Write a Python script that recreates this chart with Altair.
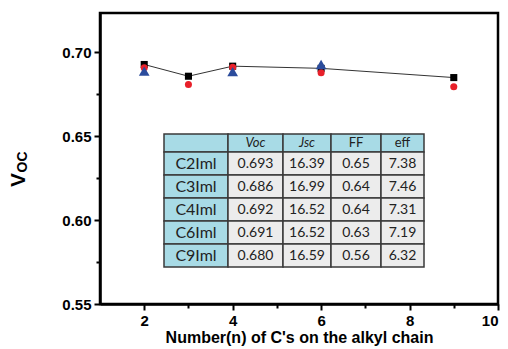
import altair as alt
import pandas as pd

# ---- data ----
n_black = [2, 3, 4, 6, 9]
voc_black = [0.6928, 0.6858, 0.6918, 0.6905, 0.6850]
n_red = [2, 3, 4, 6, 9]
voc_red = [0.6908, 0.6809, 0.6912, 0.6879, 0.6795]
n_blue = [2, 4, 6]
voc_blue = [0.6889, 0.6885, 0.6928]

tbl_rows = ["C2Iml", "C3Iml", "C4Iml", "C6Iml", "C9Iml"]
tbl_cols = ["Voc", "Jsc", "FF", "eff"]
tbl_voc = ["0.693", "0.686", "0.692", "0.691", "0.680"]
tbl_jsc = ["16.39", "16.99", "16.52", "16.52", "16.59"]
tbl_ff = ["0.65", "0.64", "0.64", "0.63", "0.56"]
tbl_eff = ["7.38", "7.46", "7.31", "7.19", "6.32"]

x_major = [2, 4, 6, 8, 10]
x_minor = [3, 5, 7, 9]
y_major = [0.55, 0.60, 0.65, 0.70]
y_minor = [0.575, 0.625, 0.675]

# ---- layout ----
W, H = 398, 291
col_edges = [64, 128, 183, 231, 281, 324]
row_edges = [121, 139, 162, 185, 208, 231, 254]
BLUE_CELL = "#a8dbe6"
GRAY_CELL = "#ececec"

xscale = alt.Scale(domain=[1, 10], nice=False, zero=False)
yscale = alt.Scale(domain=[0.55, 0.7235], nice=False, zero=False)

axis_common = dict(
    domain=True, domainColor="black", domainWidth=2.5,
    grid=False, ticks=True, tickColor="black", tickWidth=2,
    labelFont="Liberation Sans", labelFontWeight="bold", labelFontSize=15,
    labelColor="black", titleFont="Liberation Sans", titleFontWeight="bold",
    titleColor="black",
)

xaxis = alt.Axis(
    values=x_major + x_minor, labelExpr="datum.value % 2 == 0 ? datum.label : ''",
    tickSize={"condition": {"test": "datum.value % 2 == 0", "value": 6}, "value": 4},
    title="Number(n) of C's on the alkyl chain", titleFontSize=16, titlePadding=1,
    labelPadding=3, **axis_common,
)
yaxis = alt.Axis(
    values=y_major + y_minor, format=".2f",
    labelExpr="round(datum.value*1000) % 50 == 0 ? datum.label : ''",
    tickSize={"condition": {"test": "round(datum.value*1000) % 50 == 0", "value": 6}, "value": 4},
    title=None, labelPadding=3, **axis_common,
)

df_b = pd.DataFrame({"n": n_black, "v": voc_black})
df_r = pd.DataFrame({"n": n_red, "v": voc_red})
df_t = pd.DataFrame({"n": n_blue, "v": voc_blue})

line = alt.Chart(df_b).mark_line(color="#333333", strokeWidth=1).encode(
    x=alt.X("n:Q", scale=xscale, axis=xaxis),
    y=alt.Y("v:Q", scale=yscale, axis=yaxis),
)
sq = alt.Chart(df_b).mark_point(shape="square", filled=True, color="black", size=50, opacity=1).encode(
    x=alt.X("n:Q", scale=xscale), y=alt.Y("v:Q", scale=yscale))
rc = alt.Chart(df_r).mark_point(shape="circle", filled=True, color="#e8202a", size=50, opacity=1).encode(
    x=alt.X("n:Q", scale=xscale), y=alt.Y("v:Q", scale=yscale))
tr = alt.Chart(df_t).mark_point(shape="triangle-up", filled=True, color="#2b4c9c", size=115, opacity=1).encode(
    x=alt.X("n:Q", scale=xscale), y=alt.Y("v:Q", scale=yscale))

# ---- table ----
cells = []
header = [""] + tbl_cols
body = [[r, a, b, c, d] for r, a, b, c, d in zip(tbl_rows, tbl_voc, tbl_jsc, tbl_ff, tbl_eff)]
grid = [header] + body
for i, row in enumerate(grid):
    for j, txt in enumerate(row):
        blue = (i == 0) or (j == 0)
        if i == 0:
            size, style = 13, ("italic" if txt in ("Voc", "Jsc") else "normal")
        elif j == 0:
            size, style = 16, "normal"
        else:
            size, style = 14, "normal"
        cells.append({
            "x0": col_edges[j], "x1": col_edges[j + 1],
            "y0": row_edges[i], "y1": row_edges[i + 1],
            "xc": (col_edges[j] + col_edges[j + 1]) / 2,
            "yc": (row_edges[i] + row_edges[i + 1]) / 2,
            "txt": txt, "fill": BLUE_CELL if blue else GRAY_CELL,
            "size": size, "style": style,
        })
df_cells = pd.DataFrame(cells)

rects = alt.Chart(df_cells).mark_rect(stroke="#3a3a3a", strokeWidth=1.5).encode(
    x=alt.X("x0:Q", scale=None, axis=None), x2="x1:Q",
    y=alt.Y("y0:Q", scale=None, axis=None), y2="y1:Q",
    fill=alt.Fill("fill:N", scale=None),
)
texts = []
for st in ["normal", "italic"]:
    for sz in [13, 14, 16]:
        sub = df_cells[(df_cells["style"] == st) & (df_cells["size"] == sz) & (df_cells["txt"] != "")]
        if len(sub) == 0:
            continue
        texts.append(alt.Chart(sub).mark_text(
            font="Lato", fontSize=sz, fontStyle=st, color="#222222", baseline="middle", align="center"
        ).encode(
            x=alt.X("xc:Q", scale=None, axis=None),
            y=alt.Y("yc:Q", scale=None, axis=None),
            text="txt:N",
        ))

# ---- y title V_OC ----
ytitle_v = alt.Chart(pd.DataFrame({"t": ["V"]})).mark_text(
    font="Liberation Sans", fontWeight="bold", fontSize=21, angle=270, color="black",
    align="center", baseline="middle",
).encode(x=alt.value(-81), y=alt.value(167), text="t:N")
ytitle_oc = alt.Chart(pd.DataFrame({"t": ["OC"]})).mark_text(
    font="Liberation Sans", fontWeight="bold", fontSize=14, angle=270, color="black",
    align="center", baseline="middle",
).encode(x=alt.value(-77), y=alt.value(149), text="t:N")

chart = alt.layer(line, sq, rc, tr, rects, *texts, ytitle_v, ytitle_oc).properties(
    width=W, height=H,
    autosize=alt.AutoSizeParams(type="none"),
    padding={"left": 100, "top": 13, "right": 10, "bottom": 45},
    background="white",
).configure_view(stroke="black", strokeWidth=2.5)

chart.save("out.html", embed_options={"renderer": "svg", "actions": False})
